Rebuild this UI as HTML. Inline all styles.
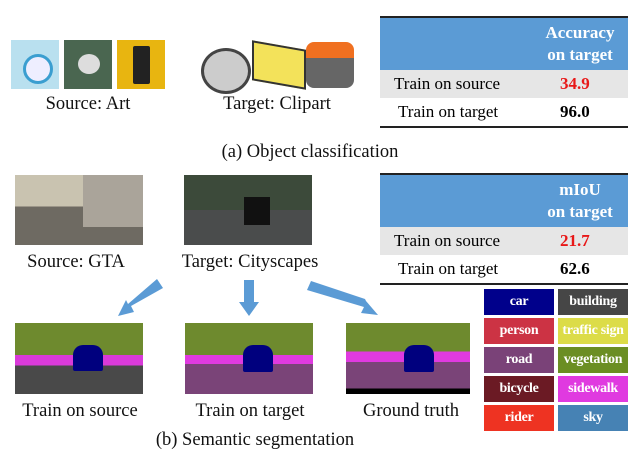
<!DOCTYPE html>
<html><head><style>
body{margin:0;width:640px;height:463px;background:#fff;position:relative;overflow:hidden;font-family:"Liberation Serif",serif;}
.a{position:absolute}
.t{position:absolute;font-size:18.5px;color:#111;white-space:nowrap;transform:translateX(-50%)}
.lg{position:absolute;width:70px;height:26px;color:#fff;font-weight:bold;font-size:14px;text-align:center;line-height:26px;white-space:nowrap;letter-spacing:-0.3px}
.tb{position:absolute;left:380px;width:248px}
.hd{background:#5b9bd5;color:#fff;font-weight:bold;font-size:17px;height:52px;border-top:2px solid #222;position:relative}
.hd div{position:absolute;left:150px;width:100px;text-align:center;top:4px;line-height:22px}
.r{height:28px;font-size:17px;position:relative;line-height:28px}
.r span{position:absolute}
</style></head><body>
<div class="a" style="left:11px;top:40px;width:48px;height:49px;background:#b9e0ef"><div class="a" style="left:12px;top:14px;width:24px;height:24px;border-radius:50%;border:3px solid #3a9ed0;background:#eef"></div></div>
<div class="a" style="left:64px;top:40px;width:48px;height:49px;background:#4a6650"><div class="a" style="left:14px;top:14px;width:22px;height:20px;border-radius:50%;background:#ddd"></div></div>
<div class="a" style="left:117px;top:40px;width:48px;height:49px;background:#e8b510"><div class="a" style="left:16px;top:6px;width:17px;height:38px;background:#222;border-radius:2px"></div></div>
<div class="a" style="left:201px;top:48px;width:44px;height:40px;border-radius:50%;background:#ccc;border:3px solid #444"></div>
<div class="a" style="left:252px;top:45px;width:50px;height:36px;background:#f3e25a;border:2px solid #333;transform:skewY(10deg)"></div>
<div class="a" style="left:306px;top:42px;width:48px;height:46px;background:linear-gradient(#f07020 0 35%,#666 35%);border-radius:8px"></div>
<div class="t" style="left:88px;top:94px">Source: Art</div>
<div class="t" style="left:277px;top:94px">Target: Clipart</div>
<div class="t" style="left:310px;top:142px">(a) Object classification</div>
<div class="tb" style="top:16px">
<div class="hd"><div>Accuracy<br>on target</div></div>
<div class="r" style="background:#e6e6e6"><span style="left:14px">Train on source</span><span style="left:180px;color:#e81818;font-weight:bold">34.9</span></div>
<div class="r" style="border-bottom:2px solid #222"><span style="left:18px">Train on target</span><span style="left:180px;font-weight:bold">96.0</span></div>
</div>
<div class="tb" style="top:173px">
<div class="hd"><div>mIoU<br>on target</div></div>
<div class="r" style="background:#e6e6e6"><span style="left:14px">Train on source</span><span style="left:180px;color:#e81818;font-weight:bold">21.7</span></div>
<div class="r" style="border-bottom:2px solid #222"><span style="left:18px">Train on target</span><span style="left:180px;font-weight:bold">62.6</span></div>
</div>
<div class="a" style="left:15px;top:175px;width:128px;height:70px;background:linear-gradient(#c9c3b0 0 45%,#6e6a62 45%)"><div class="a" style="left:68px;top:0;width:60px;height:52px;background:#aaa49a"></div></div>
<div class="a" style="left:184px;top:175px;width:128px;height:70px;background:linear-gradient(#3c4a3a 0 50%,#4a4c4c 50%)"><div class="a" style="left:60px;top:22px;width:26px;height:28px;background:#111"></div></div>
<div class="t" style="left:76px;top:252px">Source: GTA</div>
<div class="t" style="left:250px;top:252px">Target: Cityscapes</div>
<svg class="a" style="left:0;top:0" width="640" height="463">
<g fill="#5b9bd5">
<polygon points="157,279 163,288 131,306 134,312 118,316 126,300 128,304"/>
<polygon points="244,280 254,280 254,302 259,302 249,316 239,302 244,302"/>
<polygon points="311,281 307,290 364,307 361,313 378,315 366,301 365,299"/>
</g></svg>
<div class="a" style="left:15px;top:323px;width:128px;height:71px;background:linear-gradient(#6e8a2e 0 45%,#d93ad9 45% 60%,#494949 60%)"><div class="a" style="left:58px;top:22px;width:30px;height:26px;background:#00007e;border-radius:10px 10px 2px 2px"></div></div>
<div class="a" style="left:185px;top:323px;width:128px;height:71px;background:linear-gradient(#6e8a2e 0 45%,#e03ae0 45% 58%,#7a4478 58%)"><div class="a" style="left:58px;top:22px;width:30px;height:27px;background:#00007e;border-radius:10px 10px 2px 2px"></div></div>
<div class="a" style="left:346px;top:323px;width:124px;height:71px;background:linear-gradient(#6e8a2e 0 40%,#e03ae0 40% 55%,#7a4478 55% 92%,#000 92%)"><div class="a" style="left:58px;top:22px;width:30px;height:27px;background:#00007e;border-radius:10px 10px 2px 2px"></div></div>
<div class="t" style="left:80px;top:401px">Train on source</div>
<div class="t" style="left:250px;top:401px">Train on target</div>
<div class="t" style="left:411px;top:401px">Ground truth</div>
<div class="t" style="left:255px;top:430px">(b) Semantic segmentation</div>
<div class="lg" style="left:484px;top:289px;background:#00008b">car</div>
<div class="lg" style="left:558px;top:289px;background:#464646">building</div>
<div class="lg" style="left:484px;top:318px;background:#cc3344">person</div>
<div class="lg" style="left:558px;top:318px;background:#dcdc48">traffic sign</div>
<div class="lg" style="left:484px;top:347px;background:#7a4278">road</div>
<div class="lg" style="left:558px;top:347px;background:#6b8e23">vegetation</div>
<div class="lg" style="left:484px;top:376px;background:#6b1a24">bicycle</div>
<div class="lg" style="left:558px;top:376px;background:#e03ae0">sidewalk</div>
<div class="lg" style="left:484px;top:405px;background:#ee3322">rider</div>
<div class="lg" style="left:558px;top:405px;background:#4682b4">sky</div>
</body></html>
